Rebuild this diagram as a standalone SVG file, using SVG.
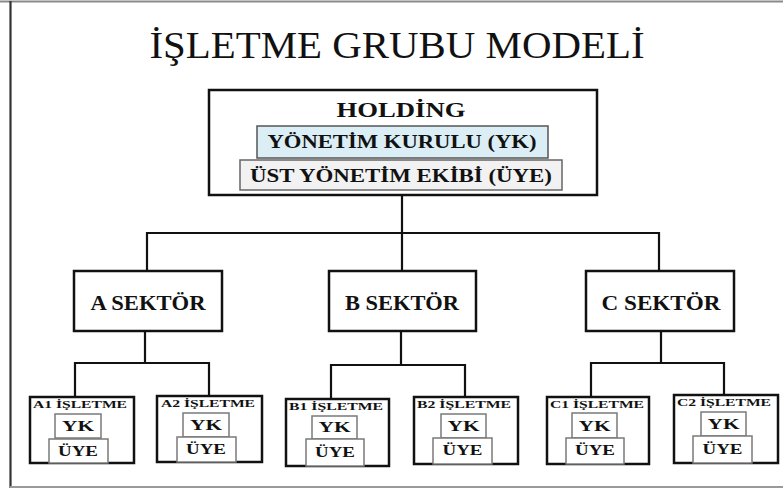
<svg xmlns="http://www.w3.org/2000/svg" width="783" height="490" viewBox="0 0 783 490">
<style>
.t{font-family:"Liberation Serif","Tinos","DejaVu Serif",serif;fill:#111;text-anchor:middle}
.b{font-weight:700}
.box{fill:#fff;stroke:#111;stroke-width:2.5}
.in{fill:#fff;stroke:#7a7a7a;stroke-width:1.5}
.ln{stroke:#111;stroke-width:2.2;fill:none}
.yk{font-size:14px}
</style>
<rect width="783" height="490" fill="#fff"/>
<g id="frame">
<line x1="0" y1="1.5" x2="783" y2="1.5" stroke="#8a8a8a" stroke-width="2"/>
<line x1="10.5" y1="1" x2="10.5" y2="488" stroke="#333" stroke-width="2.2"/>
<line x1="10" y1="487" x2="783" y2="487" stroke="#9a9a9a" stroke-width="2.2"/>
</g>
<text id="title" class="t" x="397" y="58" font-size="38" textLength="495" lengthAdjust="spacingAndGlyphs">İŞLETME GRUBU MODELİ</text>
<g id="connectors">
<path class="ln" d="M402 195V270M147 270V233H659V270"/>
<path class="ln" d="M145 332V363M75 397V363H209V396"/>
<path class="ln" d="M401 332V365M331 399V365H465V397"/>
<path class="ln" d="M661 332V363M591 397V363H724V395"/>
</g>
<g id="holding">
<rect class="box" x="209" y="90" width="388" height="105"/>
<text class="t b" x="401" y="117" font-size="21" textLength="129" lengthAdjust="spacingAndGlyphs">HOLDİNG</text>
<rect x="257" y="126" width="291" height="32" fill="#dbeef5" stroke="#555" stroke-width="1.5"/>
<text class="t b" x="402" y="148" font-size="18" textLength="269" lengthAdjust="spacingAndGlyphs">YÖNETİM KURULU (YK)</text>
<rect x="240" y="160" width="322" height="30" fill="#f2f2f2" stroke="#666" stroke-width="1.5"/>
<text class="t b" x="401" y="182" font-size="19" textLength="302" lengthAdjust="spacingAndGlyphs">ÜST YÖNETİM EKİBİ (ÜYE)</text>
</g>
<g id="sektorA">
<rect class="box" x="74" y="271" width="148" height="60"/>
<text class="t b" x="148" y="310" font-size="20" textLength="115" lengthAdjust="spacingAndGlyphs">A SEKTÖR</text>
</g>
<g id="sektorB">
<rect class="box" x="329" y="271" width="147" height="60"/>
<text class="t b" x="402" y="310" font-size="20" textLength="114" lengthAdjust="spacingAndGlyphs">B SEKTÖR</text>
</g>
<g id="sektorC">
<rect class="box" x="586" y="271" width="148" height="60"/>
<text class="t b" x="661" y="310" font-size="20" textLength="119" lengthAdjust="spacingAndGlyphs">C SEKTÖR</text>
</g>
<g id="A1">
<rect class="box" x="30" y="397" width="104" height="66"/>
<text class="t b" x="80" y="408" font-size="11" textLength="94" lengthAdjust="spacingAndGlyphs">A1 İŞLETME</text>
<rect class="in" x="55" y="414" width="46" height="24"/>
<text class="t b yk" x="78" y="431" textLength="32" lengthAdjust="spacingAndGlyphs">YK</text>
<rect class="in" x="49" y="439" width="59" height="24"/>
<text class="t b yk" x="78" y="456" textLength="40" lengthAdjust="spacingAndGlyphs">ÜYE</text>
</g>
<g id="A2">
<rect class="box" x="157" y="396" width="105" height="66"/>
<text class="t b" x="208" y="407" font-size="11" textLength="94" lengthAdjust="spacingAndGlyphs">A2 İŞLETME</text>
<rect class="in" x="183" y="413" width="46" height="24"/>
<text class="t b yk" x="206" y="430" textLength="32" lengthAdjust="spacingAndGlyphs">YK</text>
<rect class="in" x="177" y="437" width="59" height="25"/>
<text class="t b yk" x="206" y="454" textLength="40" lengthAdjust="spacingAndGlyphs">ÜYE</text>
</g>
<g id="B1">
<rect class="box" x="286" y="399" width="103" height="67"/>
<text class="t b" x="336" y="410" font-size="11" textLength="94" lengthAdjust="spacingAndGlyphs">B1 İŞLETME</text>
<rect class="in" x="312" y="416" width="45" height="23"/>
<text class="t b yk" x="334.500" y="432" textLength="32" lengthAdjust="spacingAndGlyphs">YK</text>
<rect class="in" x="306" y="439" width="58" height="27"/>
<text class="t b yk" x="335" y="457" textLength="40" lengthAdjust="spacingAndGlyphs">ÜYE</text>
</g>
<g id="B2">
<rect class="box" x="414" y="397" width="104" height="67"/>
<text class="t b" x="464" y="408" font-size="11" textLength="94" lengthAdjust="spacingAndGlyphs">B2 İŞLETME</text>
<rect class="in" x="441" y="414" width="45" height="24"/>
<text class="t b yk" x="463.500" y="431" textLength="32" lengthAdjust="spacingAndGlyphs">YK</text>
<rect class="in" x="433" y="438" width="59" height="26"/>
<text class="t b yk" x="462.500" y="455" textLength="40" lengthAdjust="spacingAndGlyphs">ÜYE</text>
</g>
<g id="C1">
<rect class="box" x="547" y="397" width="102" height="67"/>
<text class="t b" x="597" y="408" font-size="11" textLength="94" lengthAdjust="spacingAndGlyphs">C1 İŞLETME</text>
<rect class="in" x="572" y="413" width="45" height="25"/>
<text class="t b yk" x="594.500" y="431" textLength="32" lengthAdjust="spacingAndGlyphs">YK</text>
<rect class="in" x="566" y="438" width="58" height="26"/>
<text class="t b yk" x="595" y="455" textLength="40" lengthAdjust="spacingAndGlyphs">ÜYE</text>
</g>
<g id="C2">
<rect class="box" x="674" y="395" width="104" height="68"/>
<text class="t b" x="724" y="406" font-size="11" textLength="94" lengthAdjust="spacingAndGlyphs">C2 İŞLETME</text>
<rect class="in" x="701" y="412" width="45" height="24"/>
<text class="t b yk" x="723.500" y="429" textLength="32" lengthAdjust="spacingAndGlyphs">YK</text>
<rect class="in" x="693" y="436" width="59" height="27"/>
<text class="t b yk" x="722.500" y="454" textLength="40" lengthAdjust="spacingAndGlyphs">ÜYE</text>
</g>
</svg>
